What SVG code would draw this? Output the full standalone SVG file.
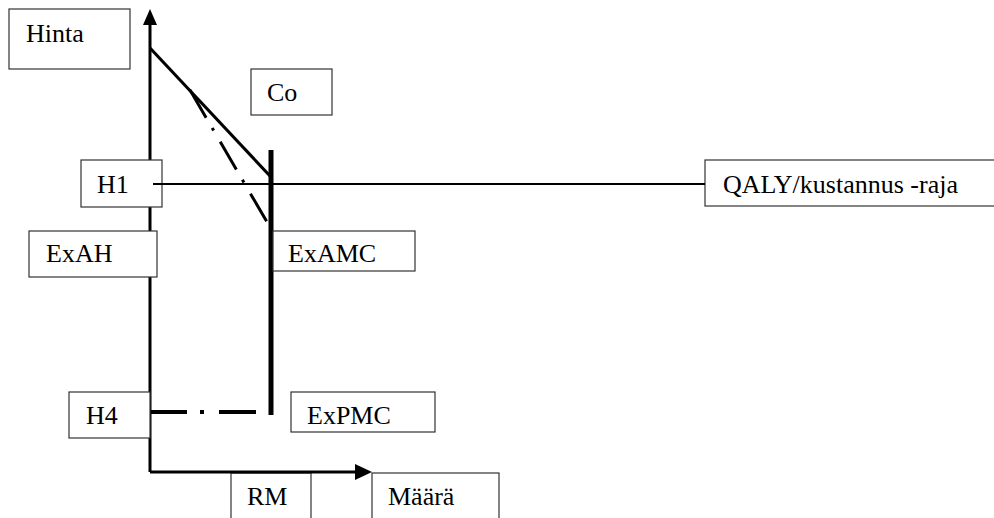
<svg xmlns="http://www.w3.org/2000/svg" width="994" height="518" viewBox="0 0 994 518">
<style>
.box{fill:#fff;stroke:#333;stroke-width:1.2}
.t{font-family:"Liberation Serif","Times New Roman",serif;font-size:26px;fill:#000}
.ln{stroke:#000;fill:none}
</style>
<rect width="994" height="518" fill="#fff"/>
<g id="rm-box"><rect class="box" x="231" y="473" width="80" height="50"/><text class="t" x="247" y="505">RM</text></g>
<g id="maara-box"><rect class="box" x="372" y="473" width="127" height="50"/><text class="t" x="388" y="505">Määrä</text></g>
<g id="connectors">
<line class="ln" x1="150" y1="22" x2="150" y2="472" stroke-width="3"/>
<line class="ln" x1="150" y1="472" x2="357" y2="472" stroke-width="3"/>
<polygon points="150,9 143,25 157,25" fill="#000"/>
<polygon points="372,472 355,464 355,480" fill="#000"/>
<line class="ln" x1="150" y1="48" x2="270" y2="176" stroke-width="3"/>
<line class="ln" x1="190" y1="90" x2="267" y2="222" stroke-width="3" stroke-dasharray="32 12 3 13"/>
<line class="ln" x1="150" y1="412" x2="268" y2="412" stroke-width="4" stroke-dasharray="37 13 4 15"/>
</g>
<g id="hinta"><rect class="box" x="9" y="9" width="121" height="60"/><text class="t" x="26" y="42">Hinta</text></g>
<g id="co"><rect class="box" x="251" y="69" width="81" height="46"/><text class="t" x="267" y="101">Co</text></g>
<g id="h1"><rect class="box" x="81" y="160" width="81" height="47"/><text class="t" x="97" y="193">H1</text></g>
<g id="exah"><rect class="box" x="29" y="231" width="128" height="46"/><text class="t" x="46" y="262">ExAH</text></g>
<g id="h4"><rect class="box" x="69" y="392" width="81" height="46"/><text class="t" x="86" y="424">H4</text></g>
<g id="expmc"><rect class="box" x="291" y="392" width="144" height="40"/><text class="t" x="307" y="424">ExPMC</text></g>
<g id="qaly"><rect class="box" x="705" y="160" width="295" height="46"/><text class="t" x="723" y="193">QALY/kustannus -raja</text></g>
<g id="connectors-top">
<line class="ln" x1="153" y1="184" x2="705" y2="184" stroke-width="2"/>
<line class="ln" x1="271" y1="150" x2="271" y2="415" stroke-width="5"/>
</g>
<g id="examc"><rect class="box" x="273" y="231" width="142" height="40"/><text class="t" x="288" y="262">ExAMC</text></g>
</svg>
